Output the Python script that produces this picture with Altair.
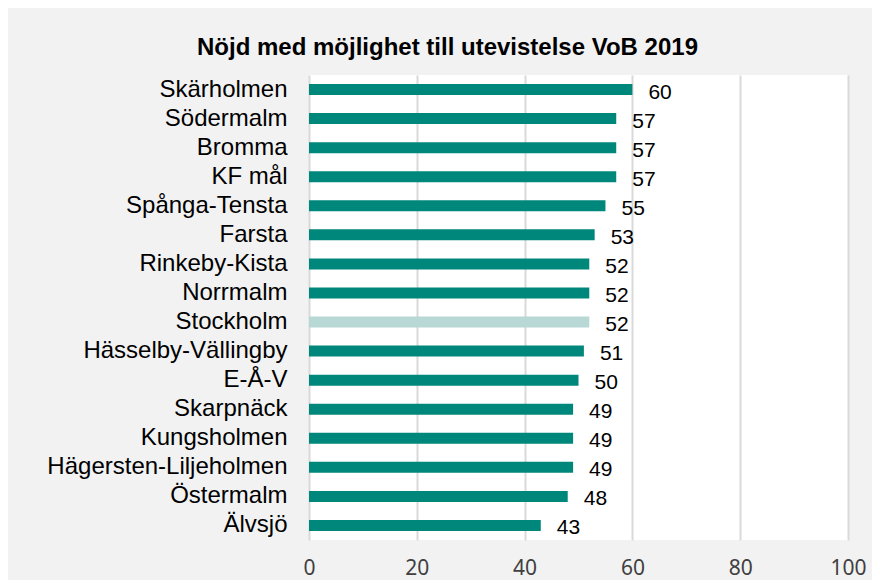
import altair as alt
import pandas as pd

categories = ["Skärholmen", "Södermalm", "Bromma", "KF mål", "Spånga-Tensta", "Farsta",
              "Rinkeby-Kista", "Norrmalm", "Stockholm", "Hässelby-Vällingby", "E-Å-V",
              "Skarpnäck", "Kungsholmen", "Hägersten-Liljeholmen", "Östermalm", "Älvsjö"]
values = [60, 57, 57, 57, 55, 53, 52, 52, 52, 51, 50, 49, 49, 49, 48, 43]
highlight = ["Stockholm"]
x_ticks = [0, 20, 40, 60, 80, 100]

df = pd.DataFrame({"omrade": categories, "varde": values})
df["typ"] = ["hl" if c in highlight else "base" for c in categories]

y_enc = alt.Y("omrade:N", sort=categories, title=None,
              scale=alt.Scale(paddingInner=0, paddingOuter=0),
              axis=alt.Axis(labelFont="Liberation Sans", labelFontSize=24, labelColor="#000000",
                            labelPadding=22, labelLimit=400, ticks=False, domain=False, grid=False))
x_enc = alt.X("varde:Q", title=None,
              scale=alt.Scale(domain=[0, 100], nice=False),
              axis=alt.Axis(values=x_ticks, labelFont="Noto Sans", labelFontSize=21,
                            labelColor="#404040", labelPadding=34, labelBaseline="alphabetic",
                            labelFlush=False, ticks=False, domain=False,
                            grid=True, gridColor="#d9d9d9", gridWidth=2))

bars = alt.Chart(df).mark_bar(size=11).encode(
    x=x_enc, y=y_enc,
    color=alt.Color("typ:N", scale=alt.Scale(domain=["base", "hl"], range=["#00877b", "#b8d8d5"]),
                    legend=None),
)
labels = alt.Chart(df).mark_text(align="left", baseline="middle", dx=16, dy=3,
                                 font="Liberation Sans", fontSize=21, color="#000000").encode(
    x="varde:Q", y=alt.Y("omrade:N", sort=categories), text="varde:Q")

chart = (bars + labels).properties(
    width=539, height=465,
    title=alt.TitleParams("Nöjd med möjlighet till utevistelse VoB 2019", font="Liberation Sans",
                          fontSize=24, fontWeight="bold", color="#000000", anchor="start",
                          frame="group", dx=-112, offset=15),
    background="#f2f2f2",
    padding={"left": 301, "top": 67, "right": 24, "bottom": 40},
    autosize=alt.AutoSizeParams(type="none"),
).configure_view(fill="#ffffff", stroke=None)

chart.save("out.html", embed_options={"renderer": "svg", "actions": False})
